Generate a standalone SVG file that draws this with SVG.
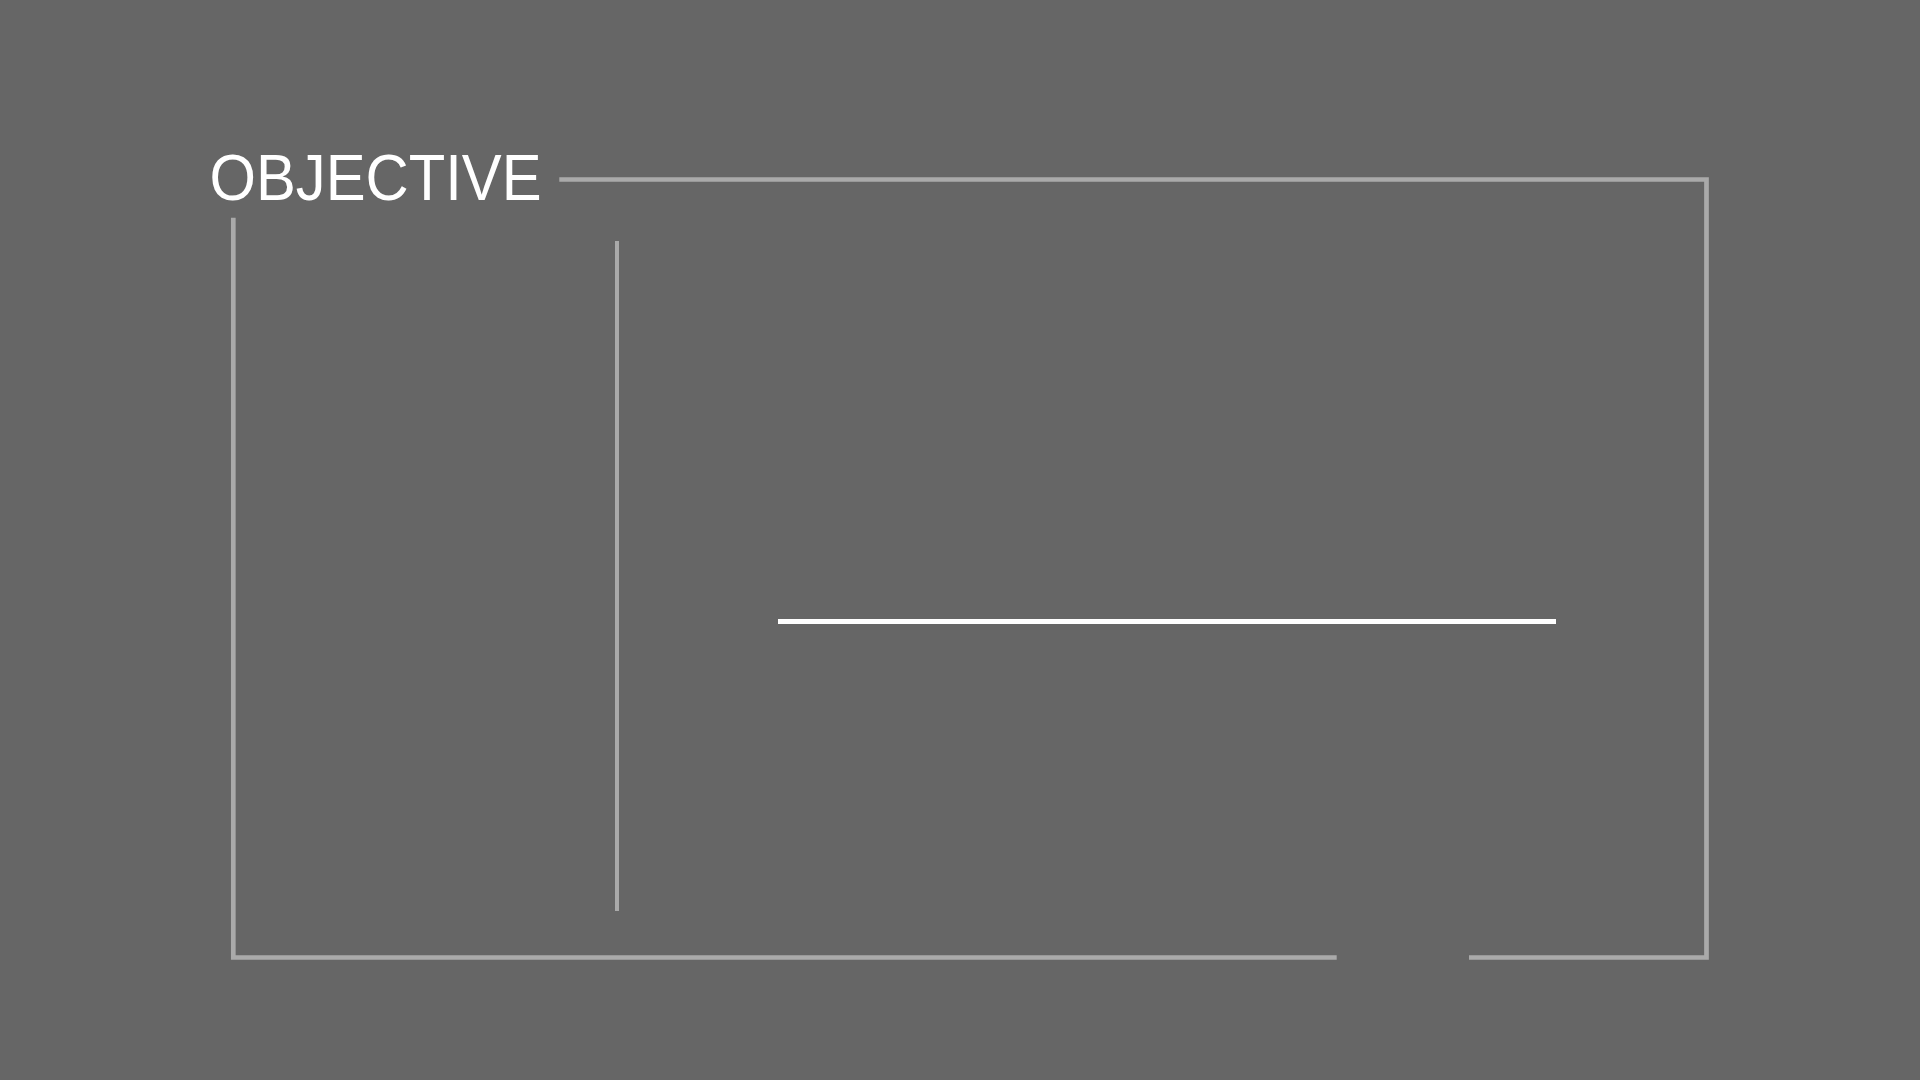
<svg xmlns="http://www.w3.org/2000/svg" width="1920" height="1080" viewBox="0 0 1920 1080">
<style>
.frame{fill:none;stroke:#aaaaaa;stroke-width:4.7;stroke-linecap:butt;stroke-linejoin:miter}
.inner{fill:none;stroke:#aaaaaa;stroke-width:4;stroke-linecap:butt}
.accent{fill:none;stroke:#ffffff;stroke-width:5;stroke-linecap:butt}
.title{font-family:"Liberation Sans",Arial,sans-serif;font-size:65.6px;fill:#ffffff}
</style>
<rect x="0" y="0" width="1920" height="1080" fill="#666666"/>
<g id="title">
<text class="title" x="209.5" y="200" textLength="332" lengthAdjust="spacingAndGlyphs">OBJECTIVE</text>
</g>
<g id="connectors">
<polyline class="frame" points="559.3,179.5 1706.5,179.5 1706.5,957.5 1469,957.5"/>
<polyline class="frame" points="1336.7,957.5 233.3,957.5 233.3,217.7"/>
<line class="inner" x1="617" y1="241" x2="617" y2="911"/>
<line class="accent" x1="778" y1="621.5" x2="1556" y2="621.5"/>
</g>
</svg>
